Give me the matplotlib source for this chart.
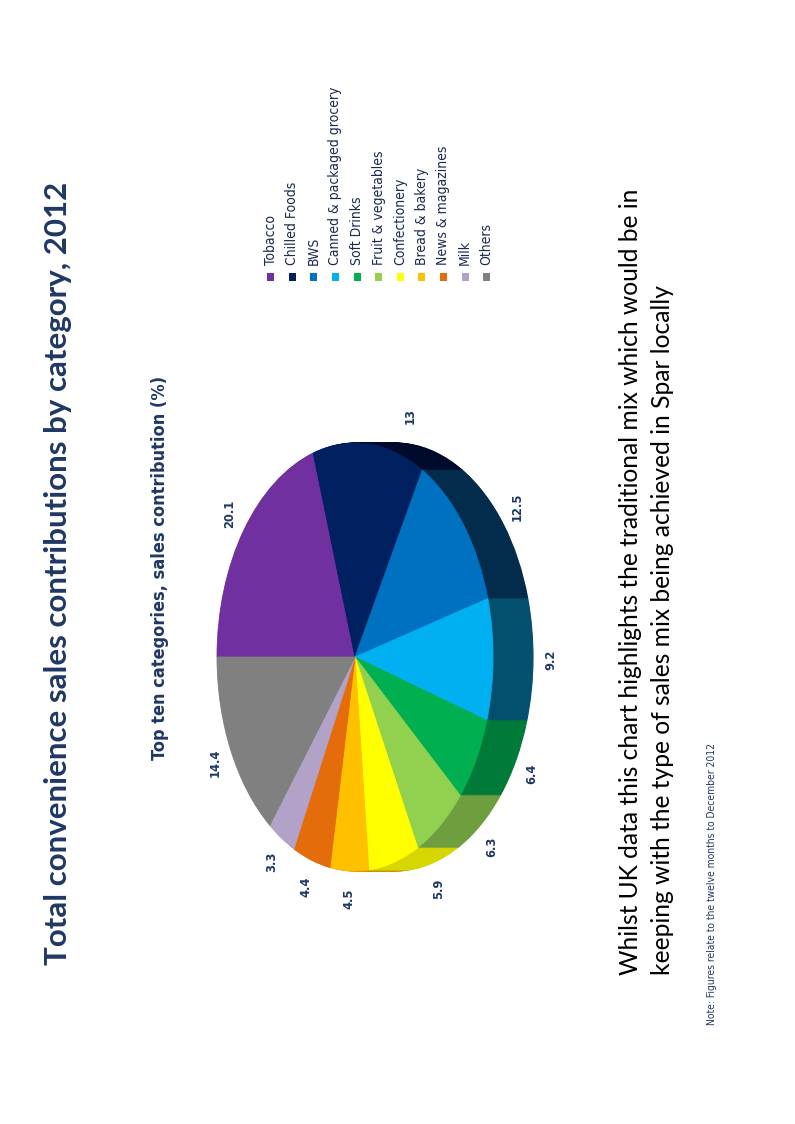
import numpy as np
import matplotlib
matplotlib.use("Agg")
import matplotlib.pyplot as plt

# ---------------- data ----------------
categories = ["Tobacco", "Chilled Foods", "BWS", "Canned & packaged grocery",
              "Soft Drinks", "Fruit & vegetables", "Confectionery",
              "Bread & bakery", "News & magazines", "Milk", "Others"]
values = [20.1, 13.0, 12.5, 9.2, 6.4, 6.3, 5.9, 4.5, 4.4, 3.3, 14.4]
value_labels = ["20.1", "13", "12.5", "9.2", "6.4", "6.3", "5.9", "4.5", "4.4", "3.3", "14.4"]

title = "Total convenience sales contributions by category, 2012"
subtitle = "Top ten categories, sales contribution (%)"
body_line1 = "Whilst UK data this chart highlights the traditional mix which would be in"
body_line2 = "keeping with the type of sales mix being achieved in Spar locally"
note = "Note: Figures relate to the twelve months to December 2012"

# ---------------- style ----------------
top_colors = ["#7030A0", "#002060", "#0070C0", "#00B0F0", "#00B050", "#92D050",
              "#FFFF00", "#FFC000", "#E46C0A", "#B3A2C7", "#808080"]
side_colors = ["#4A1F6B", "#000A2C", "#032B4B", "#03506E", "#007A38", "#6E9E3E",
               "#D6D600", "#C89600", "#A84F08", "#867999", "#5F5F5F"]
navy = "#1F3864"
cond = ["Liberation Sans Narrow", "DejaVu Sans"]

W, H = 795, 1124
fig = plt.figure(figsize=(W / 100, H / 100), dpi=100)
fig.patch.set_facecolor("white")

def fx(px):
    return px / W

def fy(py):
    return 1 - py / H

# ---------------- pie (rotated 3-D look) ----------------
cx, cy = 355, 657      # centre of top face (px)
rx, ry = 138, 214      # radii (px)
depth_px = 40
depth = depth_px / rx

ax = fig.add_axes([0, 0, 1, 1])
offsets = np.linspace(depth, 0, 41)
for off in offsets[:-1]:
    wedges, _ = ax.pie(values, colors=side_colors, startangle=180,
                       counterclock=False, center=(off, 0), radius=1)
    for w in wedges:
        w.set_edgecolor(w.get_facecolor())
        w.set_linewidth(0.8)
wedges, _ = ax.pie(values, colors=top_colors, startangle=180,
                   counterclock=False, center=(0, 0), radius=1)
for w in wedges:
    w.set_edgecolor(w.get_facecolor())
    w.set_linewidth(0.6)

for w, lab in zip(wedges, value_labels):
    mid = np.deg2rad((w.theta1 + w.theta2) / 2)
    c, s = np.cos(mid), np.sin(mid)
    x = 1.13 * c + (depth if c > 0.05 else 0)
    y = 1.13 * s
    ax.text(x, y, lab, rotation=90, ha="center", va="center",
            fontsize=9.2, fontweight="bold", color=navy, family=cond,
            fontstretch="condensed")

ax.set_aspect("auto")
ax.set_xlim(-cx / rx, (W - cx) / rx)
ax.set_ylim((cy - H) / ry, cy / ry)
ax.axis("off")

# ---------------- legend ----------------
lax = fig.add_axes([0, 0, 1, 1])
lax.set_xlim(0, W)
lax.set_ylim(H, 0)
lax.axis("off")
leg_x0, leg_step, leg_y = 270.7, 21.6, 277
xs = leg_x0 + leg_step * np.arange(len(categories))
lax.scatter(xs, np.full(len(xs), leg_y), marker="s", s=26, c=top_colors, linewidths=0)
for x, cat in zip(xs, categories):
    lax.text(x, leg_y - 12, cat, rotation=90, rotation_mode="anchor",
             ha="left", va="center", fontsize=10, color="#1A2A4E", family=cond,
             fontstretch="condensed")

# ---------------- texts ----------------
fig.text(fx(58), fy(965), title, rotation=90, rotation_mode="anchor",
         ha="left", va="center", fontsize=22.5, fontweight="bold", color=navy,
         family=["Lato", "DejaVu Sans"])
fig.text(fx(160), fy(760), subtitle, rotation=90, rotation_mode="anchor",
         ha="left", va="center", fontsize=13, fontweight="bold", color=navy,
         family=cond, fontstretch="condensed")
fig.text(fx(630), fy(975), body_line1, rotation=90, rotation_mode="anchor",
         ha="left", va="center", fontsize=17.7, color="black",
         family=["Lato", "DejaVu Sans"])
fig.text(fx(663), fy(975), body_line2, rotation=90, rotation_mode="anchor",
         ha="left", va="center", fontsize=17.7, color="black",
         family=["Lato", "DejaVu Sans"])
fig.text(fx(712), fy(1025), note, rotation=90, rotation_mode="anchor",
         ha="left", va="center", fontsize=7.35, color=navy, family=cond,
         fontstretch="condensed")

fig.savefig("out.png", dpi=100, facecolor="white")
